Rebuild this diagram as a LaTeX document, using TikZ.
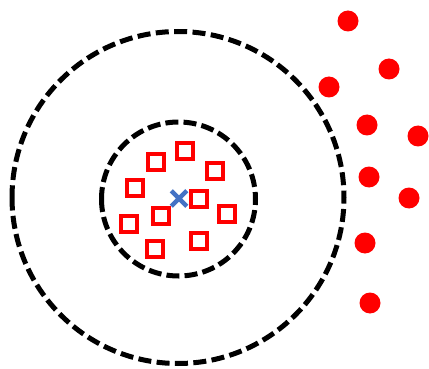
\documentclass[tikz,border=0pt]{standalone}
\usepackage{tikz}
\usetikzlibrary{shapes.misc, positioning}

\begin{document}
\begin{tikzpicture}[
    x=1pt, y=-1pt,
    ring/.style={circle, draw, line width=5pt, rotate=180, inner sep=0pt},
    sample/.style={rectangle, draw=red, line width=4.5pt, minimum size=16pt, inner sep=0pt},
    outlier/.style={circle, fill=red, minimum size=21pt, inner sep=0pt},
    centroid/.style={cross out, draw={rgb,255:red,68;green,114;blue,196}, line width=4.5pt, minimum size=11pt, inner sep=0pt}
]
    \useasboundingbox (0,0) rectangle (429,369);

    % Rings
    \node[ring, dash pattern=on 13pt off 5.41pt, minimum size=332pt] (outer) at (178,197.5) {};
    \node[ring, dash pattern=on 13pt off 5.15pt, minimum size=154pt] (inner) at (178.5,199) {};

    % Samples inside the inner ring
    \node[sample] (s1) at (156,162) {};
    \node[sample] (s2) at (185,151) {};
    \node[sample] (s3) at (215,171) {};
    \node[sample] (s4) at (135,188) {};
    \node[sample] (s5) at (199,199) {};
    \node[sample] (s6) at (161,216) {};
    \node[sample] (s7) at (227,214) {};
    \node[sample] (s8) at (129,224) {};
    \node[sample] (s9) at (155,249) {};
    \node[sample] (s10) at (199,241) {};

    % Centre
    \node[centroid] (centre) at (179,198.5) {};

    % Outliers
    \node[outlier] (o1) at (348,21) {};
    \node[outlier] (o2) at (389,69) {};
    \node[outlier] (o3) at (329,87) {};
    \node[outlier] (o4) at (367,125) {};
    \node[outlier] (o5) at (418,136) {};
    \node[outlier] (o6) at (369,177) {};
    \node[outlier] (o7) at (409,198) {};
    \node[outlier] (o8) at (365,243) {};
    \node[outlier] (o9) at (370,303) {};

\end{tikzpicture}
\end{document}
